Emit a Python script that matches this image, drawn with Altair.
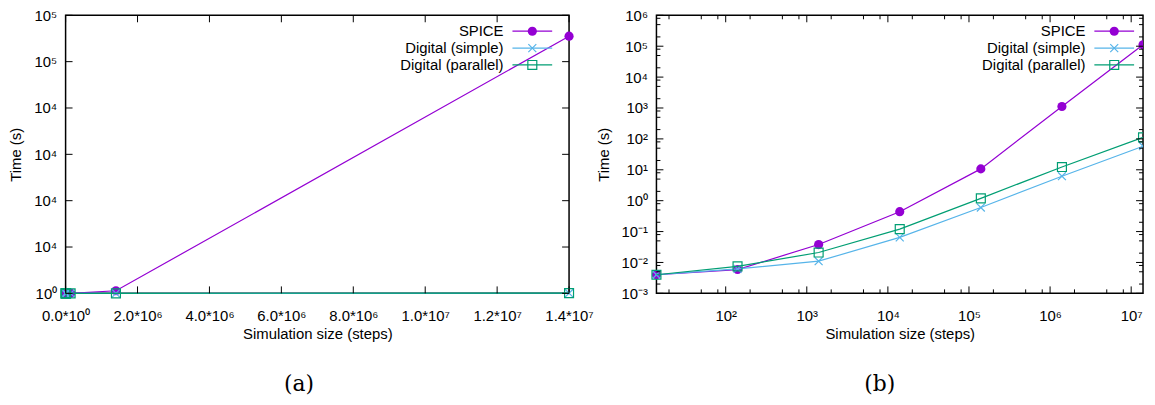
import altair as alt
import pandas as pd

# ---------------- data ----------------
steps = [14, 140, 1400, 14000, 140000, 1400000, 14000000]
spice_time = [0.0040, 0.0059, 0.038, 0.44, 10.7, 1120, 111000]
simple_time = [0.0040, 0.0062, 0.011, 0.065, 0.60, 6.2, 58]
parallel_time = [0.0040, 0.0075, 0.021, 0.12, 1.19, 12.3, 112]

series_names = ["SPICE", "Digital (simple)", "Digital (parallel)"]
series_colors = ["#9400D3", "#56B4E9", "#009E73"]
series_values = [spice_time, simple_time, parallel_time]

# panel (a) ticks (linear)
a_x_ticks = [0, 2000000, 4000000, 6000000, 8000000, 10000000, 12000000, 14000000]
a_x_labels = ["0.0*10⁰", "2.0*10⁶", "4.0*10⁶", "6.0*10⁶", "8.0*10⁶", "1.0*10⁷", "1.2*10⁷", "1.4*10⁷"]
a_y_ticks = [0, 20000, 40000, 60000, 80000, 100000, 120000]
a_y_labels = ["10⁰", "10⁴", "10⁴", "10⁴", "10⁴", "10⁵", "10⁵"]

# panel (b) ticks (log-log)
b_x_ticks = [100, 1000, 10000, 100000, 1000000, 10000000]
b_x_labels = ["10²", "10³", "10⁴", "10⁵", "10⁶", "10⁷"]
b_x_minor = [20, 50, 80, 200, 500, 800, 2000, 5000, 8000, 20000, 50000, 80000,
             200000, 500000, 800000, 2000000, 5000000, 8000000]
b_y_ticks = [0.001, 0.01, 0.1, 1, 10, 100, 1000, 10000, 100000, 1000000]
b_y_labels = ["10⁻³", "10⁻²", "10⁻¹", "10⁰", "10¹", "10²", "10³", "10⁴", "10⁵", "10⁶"]
b_y_minor = [0.002, 0.005, 0.008, 0.02, 0.05, 0.08, 0.2, 0.5, 0.8, 2, 5, 8,
             20, 50, 80, 200, 500, 800, 2000, 5000, 8000, 20000, 50000, 80000,
             200000, 500000, 800000]

rows = []
for name, vals in zip(series_names, series_values):
    for s, t in zip(steps, vals):
        rows.append({"steps": s, "time": t, "series": name})
df = pd.DataFrame(rows)
MAX_STEP = max(steps)

FONT = "Liberation Sans"
FS = 15
MARK_STYLE = {
    "SPICE": dict(shape="circle", filled=True, size=85),
    "Digital (simple)": dict(shape="M-1,-1L1,1M-1,1L1,-1", filled=False, size=64),
    "Digital (parallel)": dict(shape="square", filled=False, size=81),
}


def label_expr(values, labels):
    vals = ",".join(repr(v) for v in values)
    labs = ",".join("'" + l + "'" for l in labels)
    return f"[{labs}][indexof([{vals}], datum.value)]"


def build_panel(W, H, xscale, yscale, xticks, xlabels, yticks, ylabels,
                xminor, yminor, caption, legend_right, caption_dx, clip_edge):
    common = dict(ticks=False, tickSize=0, domain=False, grid=False,
                  labelFlush=False, labelOverlap=False,
                  labelFont=FONT, titleFont=FONT, labelFontSize=FS, titleFontSize=FS,
                  labelColor="black", titleColor="black", titleFontWeight="normal")
    xaxis = alt.Axis(values=xticks, labelExpr=label_expr(xticks, xlabels),
                     title="Simulation size (steps)", labelPadding=15, titlePadding=3, **common)
    yaxis = alt.Axis(values=yticks, labelExpr=label_expr(yticks, ylabels),
                     title="Time (s)", labelPadding=9, titlePadding=10, **common)

    def X(field):
        return alt.X(field, scale=xscale, axis=xaxis, title="Simulation size (steps)")

    def Y(field):
        return alt.Y(field, scale=yscale, axis=yaxis, title="Time (s)")

    layers = []
    for name, color in zip(series_names, series_colors):
        base = alt.Chart(df).transform_filter(alt.datum.series == name)
        line = base.mark_line(color=color, strokeWidth=1.2).encode(
            x=X("steps:Q"), y=Y("time:Q"))
        st = MARK_STYLE[name]
        layers.append(line)
        if clip_edge:
            inner = base.transform_filter(alt.datum.steps < MAX_STEP).mark_point(
                color=color, shape=st["shape"], filled=st["filled"],
                size=st["size"], strokeWidth=1.2, opacity=1).encode(
                x=X("steps:Q"), y=Y("time:Q"))
            edge = base.transform_filter(alt.datum.steps >= MAX_STEP).mark_point(
                color=color, shape=st["shape"], filled=st["filled"], clip=True,
                size=st["size"], strokeWidth=1.2, opacity=1).encode(
                x=X("steps:Q"), y=Y("time:Q"))
            layers += [inner, edge]
        else:
            pts = base.mark_point(color=color, shape=st["shape"], filled=st["filled"],
                                  size=st["size"], strokeWidth=1.2, opacity=1).encode(
                x=X("steps:Q"), y=Y("time:Q"))
            layers.append(pts)

    def xtick_layer(vals, length):
        d = pd.DataFrame({"steps": vals})
        bot = alt.Chart(d).mark_rule(color="black", strokeWidth=1).encode(
            x=X("steps:Q"), y=alt.value(H), y2=alt.value(H - length))
        top = alt.Chart(d).mark_rule(color="black", strokeWidth=1).encode(
            x=X("steps:Q"), y=alt.value(0), y2=alt.value(length))
        return [bot, top]

    def ytick_layer(vals, length):
        d = pd.DataFrame({"time": vals})
        left = alt.Chart(d).mark_rule(color="black", strokeWidth=1).encode(
            y=Y("time:Q"), x=alt.value(0), x2=alt.value(length))
        right = alt.Chart(d).mark_rule(color="black", strokeWidth=1).encode(
            y=Y("time:Q"), x=alt.value(W), x2=alt.value(W - length))
        return [left, right]

    layers += xtick_layer(xticks, 7) + ytick_layer(yticks, 7)
    if xminor:
        layers += xtick_layer(xminor, 4)
    if yminor:
        layers += ytick_layer(yminor, 4)

    # legend (labels on the left, samples on the right), gnuplot style
    for i, (name, color) in enumerate(zip(series_names, series_colors)):
        yy = 16 + 17 * i
        d = pd.DataFrame({"label": [name]})
        layers.append(alt.Chart(d).mark_text(align="right", baseline="middle", font=FONT,
                                             fontSize=FS, color="black").encode(
            text="label:N", x=alt.value(legend_right - 49), y=alt.value(yy)))
        layers.append(alt.Chart(d).mark_rule(color=color, strokeWidth=1.2).encode(
            x=alt.value(legend_right - 40), x2=alt.value(legend_right), y=alt.value(yy)))
        st = MARK_STYLE[name]
        layers.append(alt.Chart(d).mark_point(color=color, shape=st["shape"], filled=st["filled"],
                                              size=st["size"], strokeWidth=1.2, opacity=1).encode(
            x=alt.value(legend_right - 20), y=alt.value(yy)))

    return alt.layer(*layers).properties(
        width=W, height=H,
        title=alt.TitleParams(caption, orient="bottom", font="DejaVu Serif", fontSize=22,
                              fontWeight="normal", color="black", anchor="middle",
                              frame="bounds", offset=33, dx=caption_dx),
    )


panel_a = build_panel(
    507, 280,
    alt.Scale(type="linear", domain=[0, 14000000], nice=False, zero=False),
    alt.Scale(type="linear", domain=[0, 120000], nice=False, zero=False),
    a_x_ticks, a_x_labels, a_y_ticks, a_y_labels, None, None, "(a)", 490, -2, False)

panel_b = build_panel(
    490, 280,
    alt.Scale(type="log", domain=[14, 14000000], nice=False),
    alt.Scale(type="log", domain=[0.001, 1000000], nice=False),
    b_x_ticks, b_x_labels, b_y_ticks, b_y_labels, b_x_minor, b_y_minor, "(b)", 481, 9, True)

chart = alt.hconcat(panel_a, panel_b, spacing=0).properties(
    padding={"left": 0, "top": -2, "right": 0, "bottom": 0}, background="white"
).configure_view(
    stroke="black", strokeWidth=1.5
)

chart.save("out.html", embed_options={"renderer": "svg", "actions": False})
